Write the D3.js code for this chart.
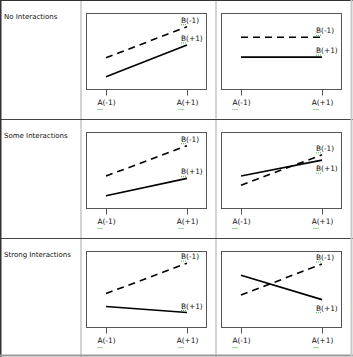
<!DOCTYPE html>
<html><head><meta charset="utf-8">
<script src="https://cdn.jsdelivr.net/npm/d3@7"></script>
<style>html,body{margin:0;padding:0;background:#fff;}svg{display:block;}</style>
</head><body>
<svg id="c" width="353" height="357"></svg>
<script>
const rowTitles = ["No Interactions", "Some Interactions", "Strong Interactions"];
const xLabels = ["A(-1)", "A(+1)"];
const seriesNames = ["B(-1)", "B(+1)"];
// per panel (row-major: row1 left, row1 right, row2 left, ...), values at A(-1), A(+1)
const bMinus = [[4.1, 8.2], [6.8, 6.8], [4.2, 8.2], [3.0, 7.0], [4.4, 8.4], [4.2, 8.3]];
const bPlus  = [[1.6, 5.8], [4.2, 4.2], [1.6, 3.9], [4.2, 6.3], [2.7, 1.9], [6.8, 3.6]];
const bPlusLabelSide = ["above", "above", "above", "below", "above", "below"];

const W = 353, H = 357;
const svg = d3.select("#c");
const rowTops = [0, 119, 238];
const colLefts = [81, 216];
const font = "DejaVu Sans, Verdana, sans-serif";

// row titles
rowTitles.forEach((t, i) => {
  svg.append("text").attr("x", 4).attr("y", rowTops[i] + 19)
    .attr("font-family", font).attr("font-size", 7).attr("fill", "#111").text(t);
});

const dashPattern = "7,5";
d3.range(6).forEach(p => {
  const r = Math.floor(p / 2), c = p % 2;
  const left = colLefts[c] + 5, top = rowTops[r] + 13;
  const bw = 120, bh = 76;
  const x = d3.scalePoint().domain(xLabels).range([left + 20, left + bw - 19]);
  const y = d3.scaleLinear().domain([0, 10]).range([top + bh, top]);
  const g = svg.append("g");
  g.append("rect").attr("x", left + 0.5).attr("y", top + 0.5).attr("width", bw).attr("height", bh)
    .attr("fill", "none").attr("stroke", "#555").attr("stroke-width", 1);
  const ax = d3.axisBottom(x).tickSize(6).tickPadding(4);
  const axg = g.append("g").attr("transform", `translate(0,${top + bh + 0.5})`).call(ax);
  axg.select(".domain").remove();
  axg.selectAll(".tick line").attr("stroke", "#555");
  axg.selectAll(".tick text").attr("font-family", font).attr("font-size", 7.4).attr("fill", "#111");
  axg.selectAll(".tick").each(function() {
    d3.select(this).append("line").attr("x1", -9).attr("x2", -3).attr("y1", 20).attr("y2", 20)
      .attr("stroke", "#4caf50").attr("stroke-width", 1).attr("stroke-dasharray", "1,1");
  });
  const line = d3.line().x((v, i) => x(xLabels[i])).y(v => y(v));
  g.append("path").datum(bMinus[p]).attr("d", line).attr("fill", "none")
    .attr("stroke", "#000").attr("stroke-width", 1.6).attr("stroke-dasharray", dashPattern);
  g.append("path").datum(bPlus[p]).attr("d", line).attr("fill", "none")
    .attr("stroke", "#000").attr("stroke-width", 1.6);
  const ex = x(xLabels[1]);
  const lab = (name, v, side) => {
    const by = side === "above" ? y(v) - 4 : y(v) + 11;
    g.append("text").attr("x", ex - 6).attr("y", by).attr("font-family", font)
      .attr("font-size", 7.4).attr("fill", "#111").text(name);
    g.append("line").attr("x1", ex - 6).attr("x2", ex).attr("y1", by + 2).attr("y2", by + 2)
      .attr("stroke", "#4caf50").attr("stroke-width", 1).attr("stroke-dasharray", "1,1");
  };
  lab(seriesNames[0], bMinus[p][1], "above");
  lab(seriesNames[1], bPlus[p][1], bPlusLabelSide[p]);
});

colLefts.forEach(cx => {
  svg.append("line").attr("x1", cx).attr("x2", cx).attr("y1", 0).attr("y2", H)
    .attr("stroke", "#d4d4d4").attr("stroke-width", 2);
});
[119, 238].forEach(ry => {
  svg.append("line").attr("x1", 0).attr("x2", W).attr("y1", ry + 0.5).attr("y2", ry + 0.5)
    .attr("stroke", "#444").attr("stroke-width", 1);
});
svg.append("line").attr("x1", 0).attr("x2", W).attr("y1", 0.5).attr("y2", 0.5).attr("stroke", "#333");
svg.append("line").attr("x1", 0.75).attr("x2", 0.75).attr("y1", 0).attr("y2", H).attr("stroke", "#333").attr("stroke-width", 1.5);
svg.append("line").attr("x1", 0).attr("x2", W).attr("y1", H - 1.5).attr("y2", H - 1.5).attr("stroke", "#9a9a9a").attr("stroke-width", 2);
svg.append("line").attr("x1", W - 1.5).attr("x2", W - 1.5).attr("y1", 0).attr("y2", H).attr("stroke", "#c8c8c8").attr("stroke-width", 2);
</script>
</body></html>
